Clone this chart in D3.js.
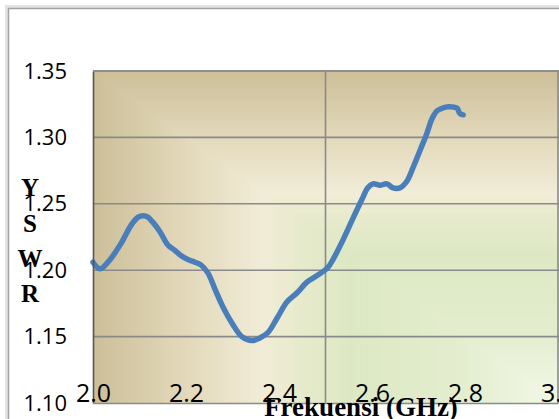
<!DOCTYPE html>
<html>
<head>
<meta charset="utf-8">
<script src="https://cdn.jsdelivr.net/npm/d3@7"></script>
<style>
  html, body { margin: 0; padding: 0; background: #fff; overflow: hidden; }
</style>
</head>
<body>
<div id="chart"></div>
<script>
// Size of the picture
var width = 559;
var height = 419;

// Data (frequency in GHz, VSWR)
var freq = [2.000, 2.015, 2.032, 2.060, 2.082, 2.097, 2.108, 2.118, 2.129, 2.144,
            2.161, 2.176, 2.189, 2.204, 2.219, 2.232, 2.247, 2.262, 2.280, 2.301,
            2.320, 2.342, 2.359, 2.376, 2.396, 2.417, 2.439, 2.460, 2.482, 2.505,
            2.516, 2.538, 2.559, 2.578, 2.591, 2.602, 2.617, 2.632, 2.645, 2.660,
            2.675, 2.688, 2.703, 2.718, 2.729, 2.740, 2.751, 2.761, 2.772, 2.783,
            2.789, 2.796];
var vswr = [1.206, 1.201, 1.206, 1.220, 1.234, 1.240, 1.241, 1.240, 1.236, 1.229,
            1.219, 1.215, 1.211, 1.208, 1.206, 1.204, 1.198, 1.186, 1.172, 1.159,
            1.150, 1.147, 1.149, 1.153, 1.164, 1.176, 1.183, 1.191, 1.196, 1.202,
            1.208, 1.223, 1.239, 1.253, 1.262, 1.265, 1.264, 1.265, 1.262, 1.262,
            1.267, 1.277, 1.290, 1.303, 1.314, 1.320, 1.322, 1.323, 1.323, 1.322,
            1.318, 1.317];

// Axis ticks
var xTicks = [2.0, 2.2, 2.4, 2.6, 2.8, 3.0];
var xGrid = [2.5, 3.0];
var yTicks = [1.10, 1.15, 1.20, 1.25, 1.30, 1.35];
var yLetters = ["Y", "S", "W", "R"];

// Plot area
var plot = { left: 93, top: 71, right: 558, bottom: 403 };

var x = d3.scaleLinear().domain([2.0, 3.0]).range([plot.left, plot.right]);
var y = d3.scaleLinear().domain([1.10, 1.35]).range([plot.bottom, plot.top]);

var svg = d3.select("#chart")
    .append("svg")
    .attr("width", width)
    .attr("height", height);

// chart border with a soft shadow
svg.append("rect")
    .attr("x", 6.5).attr("y", 6.5)
    .attr("width", width + 20).attr("height", height + 20)
    .attr("fill", "none")
    .attr("stroke", "#e4e4e4")
    .attr("stroke-width", 3);
svg.append("rect")
    .attr("x", 8.5).attr("y", 8.5)
    .attr("width", width + 20).attr("height", height + 20)
    .attr("fill", "#fff")
    .attr("stroke", "#a3a3a3")
    .attr("stroke-width", 1.5);

// plot background: rectangular gradient out of the bottom-right corner
var bg = d3.scaleLinear()
    .domain([0, 0.2, 0.45, 0.55, 0.64, 0.8, 1])
    .range(["#f3f8e9", "#e4eed0", "#dde8c3", "#e6eacb", "#f1ecd7", "#e3d9bb", "#cdbf99"])
    .interpolate(d3.interpolateRgb);

var pw = plot.right - plot.left;
var ph = plot.bottom - plot.top;
var steps = d3.range(1, 0, -0.01);
svg.append("g")
    .selectAll("rect")
    .data(steps)
    .enter()
    .append("rect")
    .attr("x", function(t) { return plot.right - pw * t; })
    .attr("y", function(t) { return plot.bottom - ph * t; })
    .attr("width", function(t) { return pw * t + 2; })
    .attr("height", function(t) { return ph * t; })
    .attr("fill", function(t) { return bg(t); });

// gridlines
svg.append("g")
    .selectAll("line")
    .data(yTicks.slice(1))
    .enter()
    .append("line")
    .attr("x1", plot.left).attr("x2", width)
    .attr("y1", function(d) { return y(d); })
    .attr("y2", function(d) { return y(d); })
    .attr("stroke", "#8a8a8a")
    .attr("stroke-width", 1.6);

svg.append("g")
    .selectAll("line")
    .data(xGrid)
    .enter()
    .append("line")
    .attr("x1", function(d) { return x(d); })
    .attr("x2", function(d) { return x(d); })
    .attr("y1", plot.top).attr("y2", plot.bottom)
    .attr("stroke", "#8a8a8a")
    .attr("stroke-width", 1.6);

// the VSWR line
var pts = freq.map(function(f, i) { return [f, vswr[i]]; });
var line = d3.line()
    .x(function(d) { return x(d[0]); })
    .y(function(d) { return y(d[1]); })
    .curve(d3.curveCatmullRom);

svg.append("path")
    .datum(pts)
    .attr("d", line)
    .attr("fill", "none")
    .attr("stroke", "#4a7ebb")
    .attr("stroke-width", 5.5)
    .attr("stroke-linejoin", "round")
    .attr("stroke-linecap", "round");

// axes
var yAxis = svg.append("g")
    .attr("transform", "translate(" + plot.left + ",0)")
    .call(d3.axisLeft(y).tickValues(yTicks).tickFormat(d3.format(".2f")).tickSize(0).tickPadding(26));
yAxis.select(".domain").attr("stroke", "#555").attr("stroke-width", 1.6);
yAxis.selectAll("text")
    .attr("font-family", "'Open Sans', sans-serif")
    .attr("font-size", 22)
    .attr("fill", "#000");

var xAxis = svg.append("g")
    .attr("transform", "translate(0," + plot.bottom + ")")
    .call(d3.axisBottom(x).tickValues(xTicks).tickFormat(d3.format(".1f")).tickSize(0));
xAxis.select(".domain").attr("stroke", "#8a8a8a").attr("stroke-width", 1.6);
xAxis.selectAll("text")
    .attr("y", -1)
    .attr("dy", 0)
    .attr("font-family", "'Open Sans', sans-serif")
    .attr("font-size", 25)
    .attr("fill", "#000");

// top border of plot
svg.append("line")
    .attr("x1", plot.left).attr("x2", width)
    .attr("y1", plot.top).attr("y2", plot.top)
    .attr("stroke", "#8a8a8a")
    .attr("stroke-width", 1.6);

// axis titles
svg.append("text")
    .attr("x", 361)
    .attr("y", 416)
    .attr("text-anchor", "middle")
    .attr("font-family", "'Liberation Serif', 'Times New Roman', serif")
    .attr("font-weight", "bold")
    .attr("font-size", 27)
    .attr("fill", "#000")
    .text("Frekuensi (GHz)");

var yBase = [196, 232, 267, 302];
svg.append("g")
    .selectAll("text")
    .data(yLetters)
    .enter()
    .append("text")
    .attr("x", 30)
    .attr("y", function(d, i) { return yBase[i]; })
    .attr("text-anchor", "middle")
    .attr("font-family", "'Liberation Serif', 'Times New Roman', serif")
    .attr("font-weight", "bold")
    .attr("font-size", 25)
    .attr("fill", "#000")
    .text(function(d) { return d; });
</script>
</body>
</html>
